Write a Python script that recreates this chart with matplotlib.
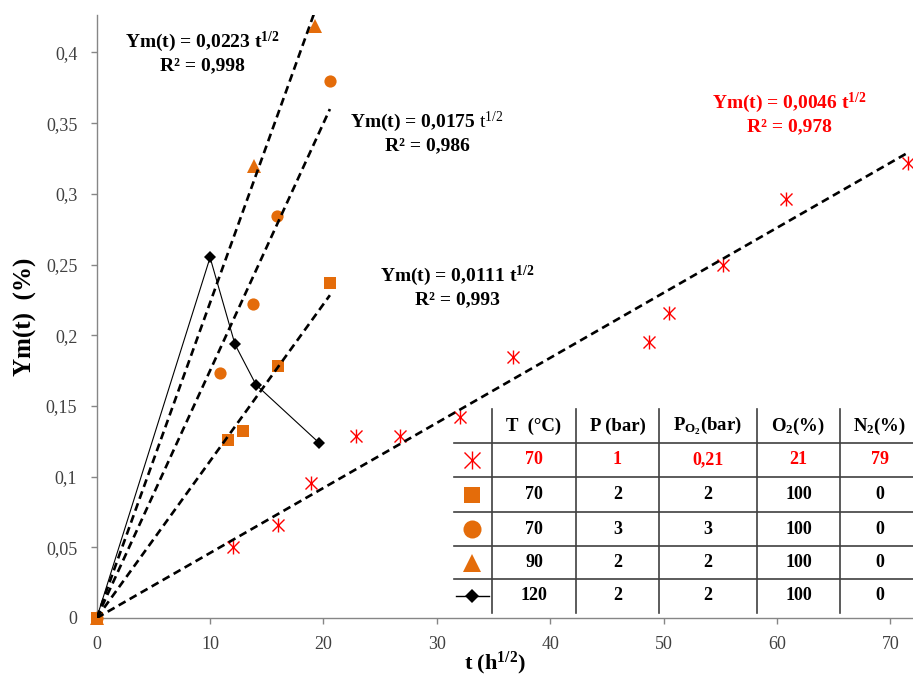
import matplotlib.pyplot as plt
import numpy as np

plt.rcParams['font.family'] = ['Liberation Serif', 'DejaVu Serif']
plt.rcParams['mathtext.fontset'] = 'custom'
plt.rcParams['mathtext.rm'] = 'Liberation Serif'
plt.rcParams['mathtext.bf'] = 'Liberation Serif:bold'
plt.rcParams['mathtext.it'] = 'Liberation Serif:italic'

# --- data (t in h^1/2, Ym in %) ---
t_air = [12.05, 16.0, 18.9, 22.87, 26.75, 32.04, 36.74, 48.7, 50.44, 55.2, 60.78, 71.57]
y_air = [0.0504, 0.0655, 0.0953, 0.1287, 0.129, 0.1424, 0.1844, 0.195, 0.2157, 0.250, 0.2963, 0.3216]

t_70_2 = [0, 11.6, 12.87, 16.0, 20.57]
y_70_2 = [0, 0.126, 0.1325, 0.178, 0.237]

t_70_3 = [0, 10.9, 13.76, 15.93, 20.57]
y_70_3 = [0, 0.173, 0.222, 0.284, 0.380]

t_90_2 = [0, 13.9, 19.25]
y_90_2 = [0, 0.320, 0.419]

t_120_2 = [0, 10.0, 12.2, 14.05, 19.6]
y_120_2 = [0, 0.255, 0.1935, 0.165, 0.124]

# linear fits through origin Ym = k * t^1/2
slopes = [0.0046, 0.0111, 0.0175, 0.0223]
r2 = ['0,978', '0,993', '0,986', '0,998']

x_ticks = [0, 10, 20, 30, 40, 50, 60, 70]
y_ticks = [0, 0.05, 0.1, 0.15, 0.2, 0.25, 0.3, 0.35, 0.4]

table_header = ['T  (°C)', 'P (bar)', r'P$_{\mathbf{O}_{\mathbf{2}}}$(bar)',
                r'O$_{\mathbf{2}}$(%)', r'N$_{\mathbf{2}}$(%)']
table_T = ['70', '70', '70', '90', '120']
table_P = ['1', '2', '3', '2', '2']
table_PO2 = ['0,21', '2', '3', '2', '2']
table_O2 = ['21', '100', '100', '100', '100']
table_N2 = ['79', '0', '0', '0', '0']

ORANGE = '#E46C0A'
RED = '#FF0000'
GREY = '#868686'
W, H = 913, 682


def fpos(x, y):
    # pixel position -> figure fraction
    return x / W, 1 - y / H


fig = plt.figure(figsize=(W / 100, H / 100), dpi=100)
ax_l, ax_r, ax_b, ax_t = 96.7, 913, 618, 15
ax = fig.add_axes([ax_l / W, 1 - ax_b / H, (ax_r - ax_l) / W, (ax_b - ax_t) / H])

# marker styles per series (air, 70/2, 70/3, 90/2, 120/2)
markers = [
    dict(color=RED, marker='x', mew=1.0),
    dict(color=ORANGE, marker='s', mew=0),
    dict(color=ORANGE, marker='o', mew=0),
    dict(color=ORANGE, marker='^', mew=0),
    dict(color='black', marker='D', mew=0),
]
plot_ms = [8.5, 9, 8.8, 10, 6]
table_ms = [12, 11.5, 13, 12.5, 7.5]

ax.plot(t_120_2, y_120_2, color='black', lw=0.8, zorder=3)
ax.plot(t_120_2, y_120_2, ls='none', ms=plot_ms[4], clip_on=False, zorder=3, **markers[4])
ax.plot(t_90_2, y_90_2, ls='none', ms=plot_ms[3], clip_on=False, zorder=3, **markers[3])
ax.plot(t_70_3, y_70_3, ls='none', ms=plot_ms[2], clip_on=False, zorder=3, **markers[2])
ax.plot(t_70_2, y_70_2, ls='none', ms=plot_ms[1], clip_on=False, zorder=3, **markers[1])
ax.plot(t_air, y_air, ls='none', ms=plot_ms[0], clip_on=False, zorder=3, **markers[0])
ax.plot(t_air, y_air, color=RED, marker='|', ms=9.5, mew=1.0, ls='none', clip_on=False, zorder=3)

# dashed trend lines
for k, tt in zip(slopes, [t_air, t_70_2, t_70_3, t_90_2]):
    xs = np.array([0, max(tt)])
    ax.plot(xs, k * xs, color='black', ls=(0, (3, 1.8)), lw=1.9, zorder=4)

ax.set_xlim(0, 72.0)
ax.set_ylim(0, 0.4265)
ax.set_xticks(x_ticks)
ax.set_yticks(y_ticks)
ax.set_yticklabels([f'{v:g}'.replace('.', ',') for v in y_ticks])

for s in ['top', 'right']:
    ax.spines[s].set_visible(False)
for s in ['left', 'bottom']:
    ax.spines[s].set_color(GREY)
    ax.spines[s].set_linewidth(1.0)
ax.tick_params(direction='out', length=4, width=1, color=GREY,
               labelsize=13, labelcolor='#404040')
ax.tick_params(axis='y', pad=10)
ax.tick_params(axis='x', pad=9)

ax.set_ylabel('Ym(t)  (%)', fontsize=18, fontweight='bold')
ax.yaxis.set_label_coords(-0.073, 0.5)
ax.set_xlabel(r't (h$^{\mathbf{1/2}}$)', fontsize=16, fontweight='bold')
ax.xaxis.set_label_coords((495 - ax_l) / (ax_r - ax_l), -0.052)

# fit annotations
ann = [
    (789, 103, r'Ym(t) = 0,0046 t$^{\mathbf{1/2}}$', 0, RED),
    (457, 276, r'Ym(t) = 0,0111 t$^{\mathbf{1/2}}$', 1, 'black'),
    (427, 122, r'Ym(t) = 0,0175 $\mathrm{t}^{\mathrm{1/2}}$', 2, 'black'),
    (202, 42, r'Ym(t) = 0,0223 t$^{\mathbf{1/2}}$', 3, 'black'),
]
for x, y, txt, i, c in ann:
    fig.text(*fpos(x, y), txt, ha='center', va='center', fontsize=14,
             fontweight='bold', color=c)
    fig.text(*fpos(x, y + 24), 'R² = ' + r2[i], ha='center', va='center',
             fontsize=14, fontweight='bold', color=c)

# --- condition table ---
col_edges = [454, 492, 576, 659, 757, 840, 913]
row_edges = [409, 443, 477, 512, 546, 579, 613]
col_cx = [472, 534, 617.5, 708, 798.5, 880]
tax = fig.add_axes([454 / W, 1 - 613 / H, (913 - 454) / W, (613 - 409) / H])
tax.set_xlim(454, 913)
tax.set_ylim(613, 409)
tax.axis('off')
tax.patch.set_alpha(0)

line_c = '#404040'
for x in col_edges[1:-1]:
    tax.plot([x, x], [row_edges[0], row_edges[-1]], color=line_c, lw=1.2, clip_on=False)
for y in row_edges[1:-1]:
    tax.plot([col_edges[0], col_edges[-1]], [y, y], color=line_c, lw=1.2, clip_on=False)

row_cy = [(a + b) / 2 for a, b in zip(row_edges[:-1], row_edges[1:])]
for j, h in enumerate(table_header):
    tax.text(col_cx[j + 1], row_cy[0], h, ha='center', va='center',
             fontsize=13.5, fontweight='bold')

columns = [table_T, table_P, table_PO2, table_O2, table_N2]
for i in range(len(table_T)):
    c = RED if i == 0 else 'black'
    y = row_cy[i + 1]
    for j, col in enumerate(columns):
        tax.text(col_cx[j + 1], y, col[i], ha='center', va='center',
                 fontsize=13, fontweight='bold', color=c)
    if i == 4:
        tax.plot([456, 489], [y, y], color='black', lw=1.0, clip_on=False)
    tax.plot([col_cx[0]], [y], ls='none', ms=table_ms[i], clip_on=False, **markers[i])
    if i == 0:
        tax.plot([col_cx[0]], [y], color=RED, marker='|', ms=13, mew=1.0, ls='none', clip_on=False)

fig.savefig('out.png', dpi=100)
